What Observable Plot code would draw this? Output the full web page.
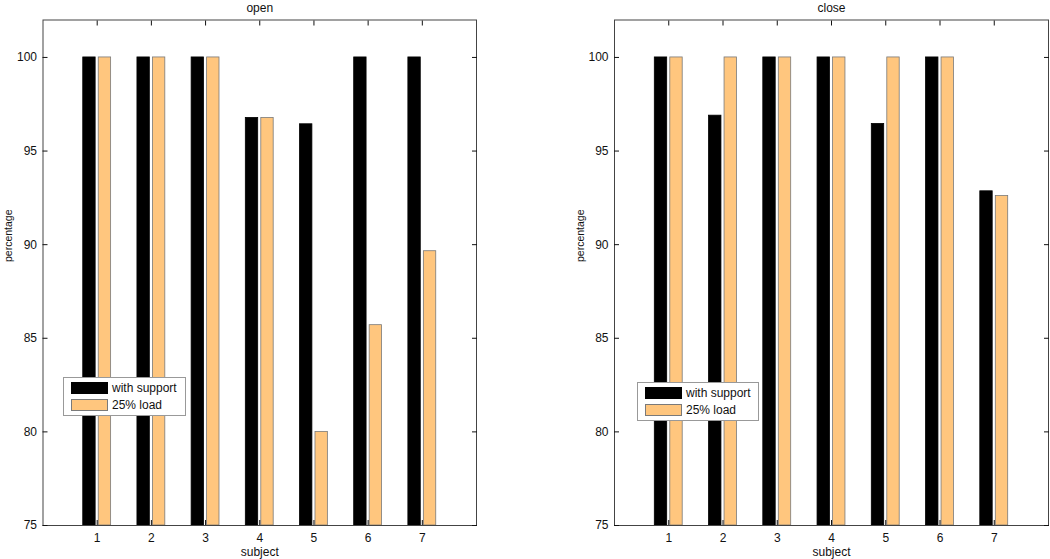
<!DOCTYPE html>
<html><head><meta charset="utf-8">
<script src="https://cdn.jsdelivr.net/npm/d3@7"></script>
<script src="https://cdn.jsdelivr.net/npm/@observablehq/plot@0.6"></script>
<style>
body{margin:0;background:#fff;font-family:"Liberation Sans",Arial,sans-serif;}
#wrap{position:relative;width:1050px;height:559px;}
.panel{position:absolute;top:0;}
.legend{position:absolute;background:#fff;border:1px solid #999;font-size:12px;color:#111;}
.legend .row{position:absolute;left:7px;height:12px;display:flex;align-items:center;}
.legend .sw{width:37px;height:12px;box-sizing:border-box;margin-right:4px;}
</style></head>
<body><div id="wrap"></div>
<script>
const subjects = [1, 2, 3, 4, 5, 6, 7];
const seriesNames = ["with support", "25% load"];
const openWithSupport = [100, 100, 100, 96.77, 96.43, 100, 100];
const openLoad = [100, 100, 100, 96.77, 80.0, 85.7, 89.65];
const closeWithSupport = [100, 96.89, 100, 100, 96.45, 100, 92.85];
const closeLoad = [100, 100, 100, 100, 100, 100, 92.6];
const yTicks = [75, 80, 85, 90, 95, 100];
const colors = ["#000000", "#FFC67E"];
const strokes = ["#000000", "#7a7a7a"];

const groupW = 2 / 3.5, barW = groupW / 2 * 0.8;
function rows(a, b) {
  const out = [];
  subjects.forEach((s, i) => {
    out.push({subject: s, series: 0, value: a[i]});
    out.push({subject: s, series: 1, value: b[i]});
  });
  return out;
}

function panel(title, a, b, left, mL, mR) {
  const data = rows(a, b);
  const off = d => (d.series === 0 ? -1 : 1) * groupW / 4;
  const p = Plot.plot({
    width: 525, height: 559,
    marginLeft: mL, marginRight: mR, marginTop: 19.5, marginBottom: 34,
    style: {fontFamily: '"Liberation Sans", Arial, sans-serif', fontSize: "12px", color: "#111", background: "transparent"},
    x: {domain: [0, 8]},
    y: {domain: [75, 102]},
    marks: [
      Plot.rectY(data, {
        x1: d => d.subject + off(d) - barW / 2,
        x2: d => d.subject + off(d) + barW / 2,
        y1: 75, y2: "value",
        fill: d => colors[d.series], stroke: d => strokes[d.series], strokeWidth: 0.8
      }),
      Plot.frame({stroke: "#444", strokeWidth: 1}),
      Plot.axisY({ticks: yTicks, tickSize: -5, tickPadding: 11, label: null, fontSize: 12}),
      Plot.axisY({ticks: yTicks, anchor: "right", tickSize: -5, tickFormat: () => "", label: null}),
      Plot.axisX({ticks: subjects, tickSize: -5, tickPadding: 13, label: null, fontSize: 12}),
      Plot.axisX({ticks: subjects, anchor: "top", tickSize: -5, tickFormat: () => "", label: null}),
      Plot.text([title], {frameAnchor: "top", lineAnchor: "middle", dy: -12, fontSize: 12}),
      Plot.text(["subject"], {frameAnchor: "bottom", lineAnchor: "middle", dy: 27, fontSize: 12}),
      Plot.text(["percentage"], {frameAnchor: "left", textAnchor: "middle", lineAnchor: "middle", dx: -34, dy: -37, rotate: -90, fontSize: 10.5})
    ]
  });
  const div = document.createElement("div");
  div.className = "panel";
  div.style.left = left + "px";
  div.appendChild(p);
  document.getElementById("wrap").appendChild(div);
}

panel("open", openWithSupport, openLoad, 0, 42.5, 49);
panel("close", closeWithSupport, closeLoad, 525, 89, 2);

function legend(x, y, w, h) {
  const lg = document.createElement("div");
  lg.className = "legend";
  Object.assign(lg.style, {left: x + "px", top: y + "px", width: w + "px", height: h + "px"});
  seriesNames.forEach((name, i) => {
    const r = document.createElement("div");
    r.className = "row";
    r.style.top = (4 + i * 17) + "px";
    const sw = document.createElement("div");
    sw.className = "sw";
    sw.style.background = colors[i];
    sw.style.border = "1px solid " + strokes[i];
    r.appendChild(sw);
    const t = document.createElement("span");
    t.textContent = name;
    r.appendChild(t);
    lg.appendChild(r);
  });
  document.getElementById("wrap").appendChild(lg);
}
legend(63, 377, 121, 37);
legend(637, 382, 120, 37);
</script></body></html>
